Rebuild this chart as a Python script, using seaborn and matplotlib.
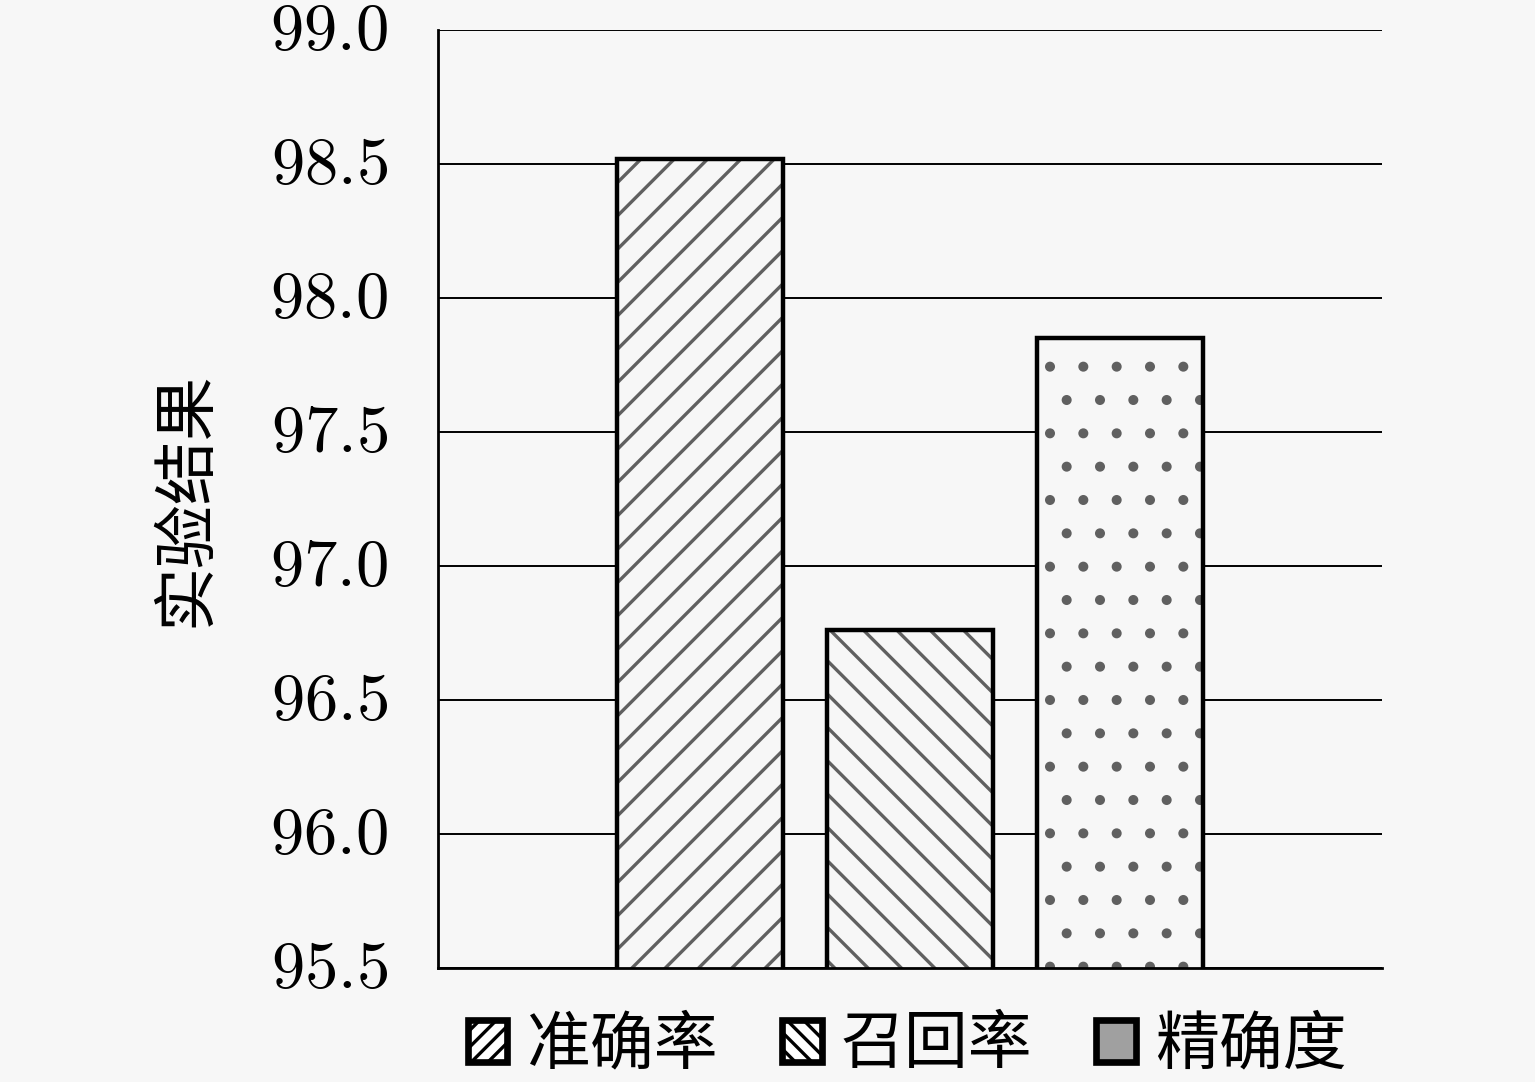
"""Bar chart of experiment results (accuracy / recall / precision)."""
import matplotlib
matplotlib.use("Agg")
import matplotlib.pyplot as plt
import matplotlib.transforms as mtransforms
from matplotlib.patches import Patch
from matplotlib.ticker import FuncFormatter, MultipleLocator
import seaborn as sns

metrics = ["准确率", "召回率", "精确度"]
values = [98.52, 96.76, 97.85]
hatches = ["//", "\\\\", "."]
y_min, y_max = 95.5, 99.0

BG = "#f7f7f7"
sns.set_theme(style="white")
plt.rcParams["font.family"] = ["Noto Sans CJK SC", "DejaVu Sans"]
plt.rcParams["mathtext.fontset"] = "cm"
plt.rcParams["hatch.linewidth"] = 1.2
plt.rcParams["hatch.color"] = "#606060"
plt.rcParams["text.color"] = "black"
plt.rcParams["ytick.color"] = "black"
plt.rcParams["axes.labelcolor"] = "black"

fig = plt.figure(figsize=(7.675, 5.41), dpi=200, facecolor=BG)
ax = fig.add_axes([0.2853, 0.1054, 0.615, 0.8669], facecolor=BG)

# hatched fill first, then the black outlines on top
sns.barplot(x=metrics, y=values, order=metrics, width=0.79, color=BG,
            edgecolor="#606060", linewidth=0, ax=ax, zorder=2)
for patch, h in zip(ax.patches, hatches):
    patch.set_hatch(h)
    patch.set_facecolor(BG)
sns.barplot(x=metrics, y=values, order=metrics, width=0.79, fill=False,
            color="black", linewidth=1.6, ax=ax, zorder=3)

ax.set_xlim(-1.25, 3.25)
ax.set_ylim(y_min, y_max)
ax.yaxis.set_major_locator(MultipleLocator(0.5))
ax.yaxis.set_major_formatter(FuncFormatter(lambda v, _: f"${v:.1f}$"))
ax.tick_params(axis="y", length=0, pad=18, labelsize=24, labelcolor="black")
# nudge the mathtext labels up a little so they sit on the grid lines
shift = mtransforms.ScaledTranslation(0, 0.03, fig.dpi_scale_trans)
for lbl in ax.get_yticklabels():
    lbl.set_transform(lbl.get_transform() + shift)
ax.set_xticks([])
ax.set_xlabel("")
ax.grid(axis="y", color="black", linewidth=0.7)
ax.set_axisbelow(True)
for side in ["top", "right"]:
    ax.spines[side].set_visible(False)
for side in ["left", "bottom"]:
    ax.spines[side].set_color("black")
    ax.spines[side].set_linewidth(1.0)

ax.set_ylabel("实验结果", fontsize=23, color="black")
ax.yaxis.set_label_coords(-0.232, 0.5)

handles = [
    Patch(facecolor="white", edgecolor="black", hatch="////", linewidth=2.4),
    Patch(facecolor="white", edgecolor="black", hatch="\\\\\\\\", linewidth=2.4),
    Patch(facecolor="#a0a0a0", edgecolor="black", linewidth=2.4),
]
fig.legend(handles, metrics, loc="center", bbox_to_anchor=(0.591, 0.034),
           ncol=3, frameon=False, fontsize=23, handlelength=0.62,
           handleheight=0.62, handletextpad=0.3, columnspacing=1.0)

fig.savefig("out.png", dpi=200, facecolor=BG)
